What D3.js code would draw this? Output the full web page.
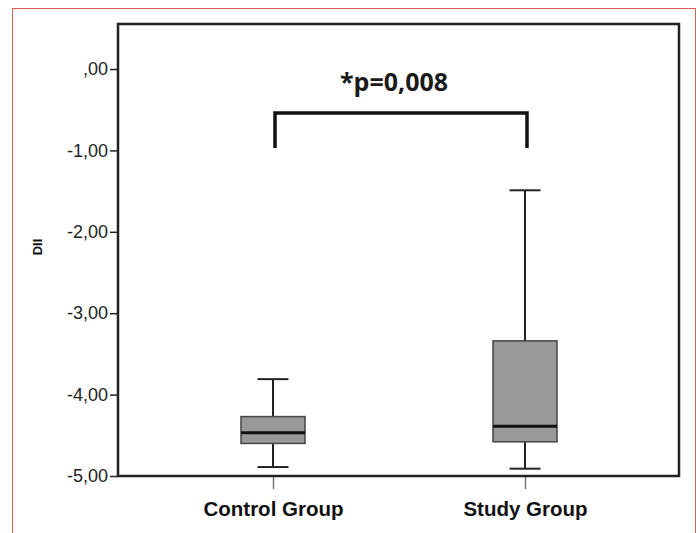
<!DOCTYPE html>
<html>
<head>
<meta charset="utf-8">
<script src="https://cdn.jsdelivr.net/npm/d3@7"></script>
<style>
body { margin: 0; background: #fff; }
</style>
</head>
<body>
<script>
var w = 700;
var h = 533;

// valeurs
var groups = ["Control Group", "Study Group"];
var whiskerHigh = [-3.81, -1.49];
var q3 = [-4.27, -3.34];
var median = [-4.47, -4.39];
var q1 = [-4.60, -4.58];
var whiskerLow = [-4.89, -4.91];
var yTicks = [0, -1, -2, -3, -4, -5];
var pLabel = "*p=0,008";

var pLeft = 118, pTop = 24, pRight = 679, pBottom = 476;

var svg = d3.select("body").append("svg")
    .attr("width", w)
    .attr("height", h);

// cadre rouge
svg.append("rect")
    .attr("x", 12.5).attr("y", 8.5)
    .attr("width", 683).attr("height", 540)
    .attr("fill", "none").attr("stroke", "#e35a5a").attr("stroke-width", 1);

var y = d3.scaleLinear().domain([-5, 0.553]).range([pBottom, pTop]);
var x = d3.scalePoint().domain(groups).range([273, 525]);

var fmt = function(d){
    var s = d.toFixed(2).replace(".", ",");
    if (s == "0,00") s = ",00";
    return s;
};

// axe y
var yAxis = svg.append("g")
    .attr("transform", "translate(" + pLeft + ",0)")
    .call(d3.axisLeft(y).tickValues(yTicks).tickFormat(fmt).tickSize(8).tickPadding(2));
yAxis.select(".domain").remove();
yAxis.selectAll("line").attr("stroke", "#222").attr("stroke-width", 1.5);
yAxis.selectAll("text")
    .attr("font-family", "Liberation Sans, Arial, sans-serif")
    .attr("font-size", 18).attr("fill", "#222");

// axe x
var xAxis = svg.append("g")
    .attr("transform", "translate(0," + pBottom + ")")
    .call(d3.axisBottom(x).tickSize(13).tickPadding(12));
xAxis.select(".domain").remove();
xAxis.selectAll("line").attr("stroke", "#777").attr("stroke-width", 1.5);
xAxis.selectAll("text")
    .attr("font-family", "Liberation Sans, Arial, sans-serif")
    .attr("font-weight", "bold")
    .attr("font-size", 20.5).attr("fill", "#111");

// boites
var bw = 64, cw = 31;
for (var i = 0; i < groups.length; i++) {
    var cx = x(groups[i]);
    svg.append("line")
        .attr("x1", cx).attr("x2", cx)
        .attr("y1", y(whiskerHigh[i])).attr("y2", y(whiskerLow[i]))
        .attr("stroke", "#222").attr("stroke-width", 2);
    svg.append("line")
        .attr("x1", cx - cw/2).attr("x2", cx + cw/2)
        .attr("y1", y(whiskerHigh[i])).attr("y2", y(whiskerHigh[i]))
        .attr("stroke", "#222").attr("stroke-width", 2);
    svg.append("line")
        .attr("x1", cx - cw/2).attr("x2", cx + cw/2)
        .attr("y1", y(whiskerLow[i])).attr("y2", y(whiskerLow[i]))
        .attr("stroke", "#222").attr("stroke-width", 2);
    svg.append("rect")
        .attr("x", cx - bw/2).attr("width", bw)
        .attr("y", y(q3[i])).attr("height", y(q1[i]) - y(q3[i]))
        .attr("fill", "#999999").attr("stroke", "#444").attr("stroke-width", 1.5);
    svg.append("line")
        .attr("x1", cx - bw/2).attr("x2", cx + bw/2)
        .attr("y1", y(median[i])).attr("y2", y(median[i]))
        .attr("stroke", "#111").attr("stroke-width", 3);
}

// cadre du graphique
svg.append("rect")
    .attr("x", pLeft).attr("y", pTop)
    .attr("width", pRight - pLeft).attr("height", pBottom - pTop)
    .attr("fill", "none").attr("stroke", "#222").attr("stroke-width", 2.5);

// titre axe y
svg.append("text")
    .attr("transform", "translate(42,247) rotate(-90)")
    .attr("text-anchor", "middle")
    .attr("font-family", "Liberation Sans, Arial, sans-serif")
    .attr("font-weight", "bold")
    .attr("font-size", 13).attr("fill", "#111")
    .text("DII");

// crochet de significativite
var bx1 = x(groups[0]) + 2, bx2 = x(groups[1]) + 2;
svg.append("path")
    .attr("d", "M" + bx1 + ",148 V113 H" + bx2 + " V148")
    .attr("fill", "none").attr("stroke", "#111").attr("stroke-width", 3.5);

svg.append("text")
    .attr("x", (bx1 + bx2) / 2 - 7).attr("y", 91)
    .attr("text-anchor", "middle")
    .attr("font-family", "Open Sans, sans-serif")
    .attr("font-weight", "bold")
    .attr("font-size", 25).attr("fill", "#1a1a1a")
    .text(pLabel);
</script>
</body>
</html>
